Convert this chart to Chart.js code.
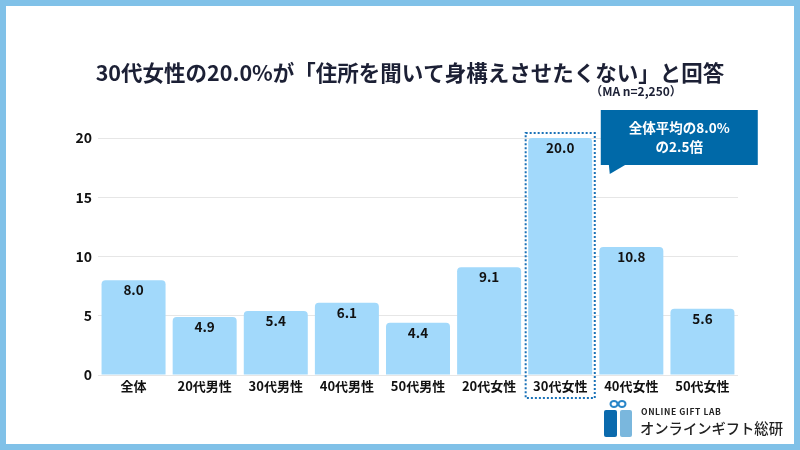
<!DOCTYPE html>
<html>
<head>
<meta charset="utf-8">
<script src="https://cdn.jsdelivr.net/npm/chart.js@4"></script>
<style>
  body { margin: 0; background: #fff; }
  #wrap { width: 800px; height: 450px; }
</style>
</head>
<body>
<div id="wrap"><canvas id="chart" width="800" height="450"></canvas></div>
<script>
// data
const categories = ['全体', '20代男性', '30代男性', '40代男性', '50代男性', '20代女性', '30代女性', '40代女性', '50代女性'];
const values = [8.0, 4.9, 5.4, 6.1, 4.4, 9.1, 20.0, 10.8, 5.6];
const yTicks = [0, 5, 10, 15, 20];
const highlightIndex = 6;

const titleText = '30代女性の20.0%が「住所を聞いて身構えさせたくない」と回答';
const noteText = '（MA n=2,250）';
const calloutLines = ['全体平均の8.0%', 'の2.5倍'];

const FONT = '"Noto Sans CJK JP", "Noto Sans", sans-serif';

// frame, title, value labels, highlight box, callout, logo
const decorPlugin = {
  id: 'decor',
  beforeDraw(chart) {
    const ctx = chart.ctx;
    ctx.save();
    ctx.fillStyle = '#ffffff';
    ctx.fillRect(0, 0, 800, 450);
    // light blue frame
    ctx.fillStyle = '#80c1e8';
    ctx.fillRect(0, 0, 800, 6);
    ctx.fillRect(0, 444, 800, 6);
    ctx.fillRect(0, 0, 6, 450);
    ctx.fillRect(794, 0, 6, 450);
    // title
    ctx.fillStyle = '#1c2035';
    ctx.font = 'bold 21.5px ' + FONT;
    ctx.textAlign = 'center';
    ctx.textBaseline = 'middle';
    ctx.fillText(titleText, 410, 73);
    ctx.font = 'bold 12px ' + FONT;
    ctx.fillText(noteText, 636, 91);
    ctx.restore();
  },
  afterDraw(chart) {
    const ctx = chart.ctx;
    const meta = chart.getDatasetMeta(0);
    const xs = chart.scales.x;
    const ys = chart.scales.y;
    ctx.save();
    // value labels inside bar tops
    ctx.fillStyle = '#111111';
    ctx.font = 'bold 13.5px ' + FONT;
    ctx.textAlign = 'center';
    ctx.textBaseline = 'middle';
    meta.data.forEach((bar, i) => {
      ctx.fillText(values[i].toFixed(1), bar.x, bar.y + 10);
    });

    // dotted box round the highlighted bar
    const cx = xs.getPixelForValue(highlightIndex);
    const half = (xs.getPixelForValue(1) - xs.getPixelForValue(0)) / 2;
    const top = ys.getPixelForValue(values[highlightIndex]) - 5;
    ctx.strokeStyle = '#1a72b8';
    ctx.lineWidth = 2;
    ctx.setLineDash([2, 2]);
    ctx.strokeRect(cx - half + 1, top, half * 2 - 2, 398 - top);
    ctx.setLineDash([]);

    // callout
    const bx = cx + half + 5, by = 110, bw = 157, bh = 55;
    ctx.fillStyle = '#0069a8';
    ctx.fillRect(bx, by, bw, bh);
    ctx.beginPath();
    ctx.moveTo(bx + 8, by + bh - 1);
    ctx.lineTo(bx + 9, by + bh + 9);
    ctx.lineTo(bx + 26, by + bh - 1);
    ctx.closePath();
    ctx.fill();
    ctx.fillStyle = '#ffffff';
    ctx.font = 'bold 13.5px ' + FONT;
    ctx.fillText(calloutLines[0], bx + bw / 2, by + 18);
    ctx.fillText(calloutLines[1], bx + bw / 2, by + 37);

    // logo
    ctx.fillStyle = '#0b6aad';
    ctx.beginPath();
    ctx.roundRect(604, 410, 13, 27, 2);
    ctx.fill();
    ctx.fillStyle = '#7ab7dd';
    ctx.beginPath();
    ctx.roundRect(620, 410, 12, 27, 2);
    ctx.fill();
    ctx.strokeStyle = '#2a86c8';
    ctx.lineWidth = 2;
    ctx.beginPath();
    ctx.ellipse(614, 404, 3.5, 3, 0, 0, Math.PI * 2);
    ctx.moveTo(625.5, 404);
    ctx.ellipse(622, 404, 3.5, 3, 0, 0, Math.PI * 2);
    ctx.stroke();
    ctx.fillStyle = '#222222';
    ctx.textAlign = 'left';
    ctx.font = '600 8.5px ' + FONT;
    if ('letterSpacing' in ctx) ctx.letterSpacing = '0.6px';
    ctx.fillText('ONLINE GIFT LAB', 641, 412);
    if ('letterSpacing' in ctx) ctx.letterSpacing = '0px';
    ctx.font = '500 14.3px ' + FONT;
    ctx.fillText('オンラインギフト総研', 640, 429);
    ctx.restore();
  }
};

new Chart(document.getElementById('chart').getContext('2d'), {
  type: 'bar',
  data: {
    labels: categories,
    datasets: [{
      data: values,
      backgroundColor: '#a2d9fb',
      borderRadius: { topLeft: 4, topRight: 4 },
      borderSkipped: 'start',
      barPercentage: 0.9,
      categoryPercentage: 1.0
    }]
  },
  options: {
    responsive: false,
    animation: false,
    layout: { padding: { left: 6, right: 62, top: 138, bottom: 45 } },
    plugins: {
      legend: { display: false },
      tooltip: { enabled: false }
    },
    scales: {
      x: {
        grid: { display: false, drawTicks: false },
        border: { display: false },
        ticks: { color: '#111111', font: { family: FONT, size: 13, weight: 'bold' }, padding: 3 },
        afterFit(scale) { scale.height = 30; }
      },
      y: {
        min: 0,
        max: 20,
        afterBuildTicks(scale) { scale.ticks = yTicks.map(v => ({ value: v })); },
        grid: { color: '#e6e6e6', drawTicks: false },
        border: { display: false },
        ticks: { color: '#111111', font: { family: FONT, size: 14, weight: 'bold' }, padding: 6 },
        afterFit(scale) { scale.width = 92; }
      }
    }
  },
  plugins: [decorPlugin]
});
</script>
</body>
</html>
